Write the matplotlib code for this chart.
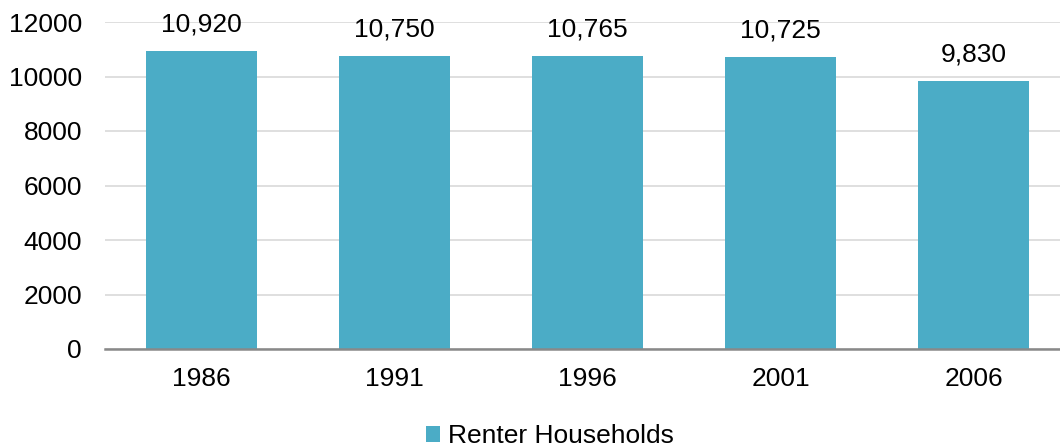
import matplotlib
matplotlib.use("Agg")
import matplotlib.pyplot as plt
from matplotlib.patches import Patch

years = ["1986", "1991", "1996", "2001", "2006"]
renter_households = [10920, 10750, 10765, 10725, 9830]
value_labels = ["10,920", "10,750", "10,765", "10,725", "9,830"]
yticks = [0, 2000, 4000, 6000, 8000, 10000, 12000]

plt.rcParams['font.family'] = ['Liberation Sans', 'DejaVu Sans']
W, H, DPI = 1060, 446, 100
FS = 19
fig = plt.figure(figsize=(W / DPI, H / DPI), dpi=DPI)
ax = fig.add_axes([105 / W, (H - 349) / H, 965 / W, (349 - 22) / H])

color = "#4BACC6"
x = list(range(len(years)))
bars = ax.bar(x, renter_households, width=0.57, color=color, zorder=2)
for xi, v, lab in zip(x, renter_households, value_labels):
    ax.annotate(lab, (xi, v), xytext=(0, 10.5), textcoords="offset points",
                ha="center", va="bottom", fontsize=FS, color="#000000")

ax.set_xlim(-0.5, len(years) - 0.5)
ax.set_ylim(0, 12000)
ax.set_yticks(yticks)
ax.set_yticklabels([str(t) for t in yticks], fontsize=FS)
ax.set_xticks(x)
ax.set_xticklabels(years, fontsize=FS)
ax.tick_params(axis="both", length=0)
ax.tick_params(axis="y", pad=16.5)
ax.tick_params(axis="x", pad=13)
ax.grid(axis="y", color="#d9d9d9", linewidth=1.2, zorder=0)
for s in ["top", "right", "left"]:
    ax.spines[s].set_visible(False)
ax.spines["bottom"].set_color("#898989")
ax.spines["bottom"].set_linewidth(1.8)
ax.spines["bottom"].set_zorder(3)

handle = Patch(facecolor=color, edgecolor="none")
fig.legend([handle], ["Renter Households"], loc="center", bbox_to_anchor=(550 / W, 1 - 436 / H),
           frameon=False, fontsize=FS, handlelength=0.55, handleheight=0.55, handletextpad=0.3)

fig.savefig("out.png", dpi=DPI)
